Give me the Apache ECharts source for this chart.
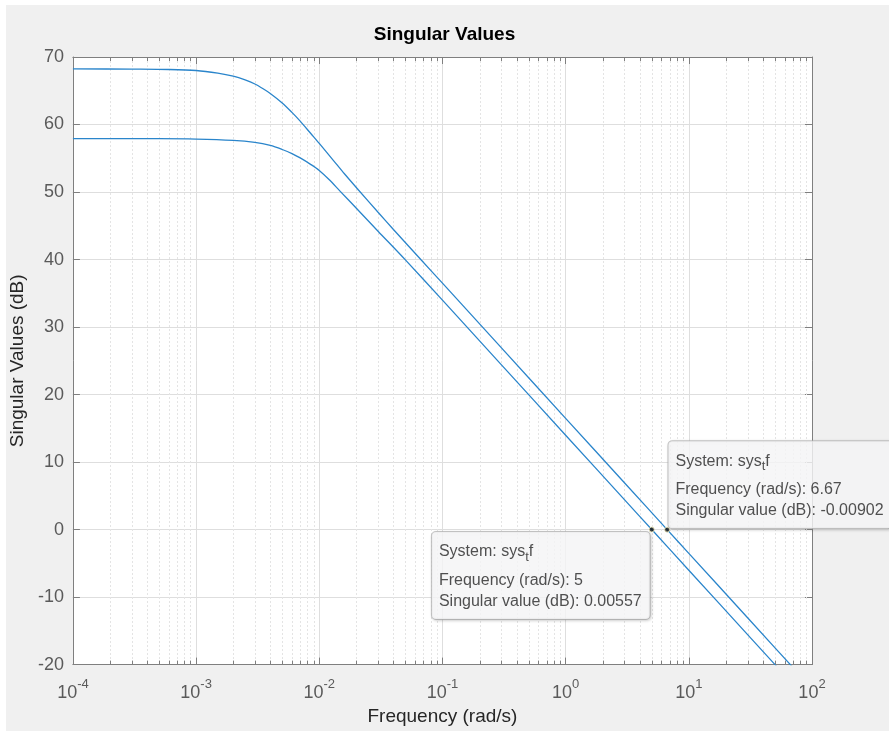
<!DOCTYPE html>
<html>
<head>
<meta charset="utf-8">
<script src="https://cdn.jsdelivr.net/npm/echarts@6/dist/echarts.min.js"></script>
<style>
  html, body { margin: 0; padding: 0; background: #ffffff; }
  #chart { width: 889px; height: 731px; }
</style>
</head>
<body>
<div id="chart"></div>
<script>
// Upper singular value: frequency (rad/s) and level (dB)
const freqUpper = [1e-4, 3e-4, 6e-4, 1e-3, 1.5e-3, 2e-3, 2.5e-3, 3e-3, 3.5e-3, 4e-3, 5e-3, 6e-3, 7e-3,
                   8.5e-3, 1e-2, 1.3e-2, 1.6e-2, 2.08e-2, 3e-2, 4e-2, 6.67e-2, 0.1, 0.3, 1, 3, 6.67, 10, 30, 100];
const sigmaUpper = [68.25, 68.2, 68.15, 68.0, 67.6, 67.15, 66.6, 66.0, 65.3, 64.6, 63.2, 61.8, 60.5,
                    58.7, 57.2, 54.7, 52.7, 50.3, 47.0, 44.45, 40.0, 36.5, 26.96, 16.48, 6.94, -0.00902, -3.52, -13.06, -23.52];

// Lower singular value: frequency (rad/s) and level (dB)
const freqLower = [1e-4, 5e-4, 1e-3, 2e-3, 3e-3, 4e-3, 5e-3, 6e-3, 7e-3, 8.5e-3, 1e-2,
                   1.2e-2, 1.48e-2, 2e-2, 3e-2, 5e-2, 0.1, 0.3, 1, 3, 5, 10, 30, 100];
const sigmaLower = [57.9, 57.9, 57.85, 57.65, 57.35, 56.9, 56.3, 55.7, 55.05, 54.1, 53.2,
                    51.85, 50.1, 47.6, 44.2, 39.95, 33.98, 24.44, 13.98, 4.44, 0.00557, -6.02, -15.56, -26.0];

// Data tips
const tipFreq = [5, 6.67];
const tipValue = [0.00557, -0.00902];

// Axis ranges
const xMin = 1e-4, xMax = 1e2;
const yMin = -20, yMax = 70, yStep = 10;
const decadeExps = [-4, -3, -2, -1, 0, 1];
const minorMultipliers = [2, 3, 4, 5, 6, 7, 8, 9];

const minorFreqs = [];
decadeExps.forEach(e => minorMultipliers.forEach(m => minorFreqs.push([m * Math.pow(10, e)])));

const FONT = '"Liberation Sans", Arial, Helvetica, sans-serif';
const LINE_COLOR = '#2a85cb';
const AXIS_COLOR = '#7f7f7f';
const TICK_TEXT = '#5a5a5a';
const TEXT_DARK = '#262626';

const chart = echarts.init(document.getElementById('chart'), null, { renderer: 'canvas' });

function xLabel(v) {
  const e = Math.round(Math.log10(v));
  return '{b|10}{s|' + e + '}';
}

const axisLineStyle = { show: true, onZero: false, lineStyle: { color: AXIS_COLOR, width: 1 } };

const tipRich = {
  a: { fontFamily: FONT, fontSize: 16, color: TEXT_DARK, lineHeight: 36, align: 'left' },
  sub: { fontFamily: FONT, fontSize: 13, color: TEXT_DARK, lineHeight: 36, padding: [10, 0, 0, 0], align: 'left' },
  b: { fontFamily: FONT, fontSize: 16, color: TEXT_DARK, lineHeight: 21, align: 'left' }
};

function tipText(i) {
  return [
    '{a|System: sys}{sub|t}{a|f}',
    '{b|Frequency (rad/s): ' + tipFreq[i] + '}',
    '{b|Singular value (dB): ' + tipValue[i] + '}'
  ].join('\n');
}

const tipBox = {
  show: true,
  backgroundColor: '#fcfcfe',
  borderColor: '#b9b9b9',
  borderWidth: 1,
  borderRadius: 4,
  padding: [2, 8, 7, 7],
  shadowColor: 'rgba(0,0,0,0.18)',
  shadowBlur: 3,
  shadowOffsetX: 1,
  shadowOffsetY: 1,
  rich: tipRich
};

function curve(fs, vs) {
  return fs.map((f, i) => [f, vs[i]]);
}

const option = {
  animation: false,
  backgroundColor: '#ffffff',
  graphic: [{
    type: 'rect', z: -10, silent: true,
    shape: { x: 6, y: 5, width: 883, height: 726 },
    style: { fill: '#f0f0f0' }
  }],
  title: {
    text: 'Singular Values',
    left: 439.5, top: 20, textAlign: 'center',
    textStyle: { fontFamily: FONT, fontSize: 19, fontWeight: 'bold', color: '#000000' }
  },
  grid: {
    left: 67, right: 77, top: 57, bottom: 63,
    show: true, backgroundColor: '#ffffff', borderWidth: 0
  },
  xAxis: [{
    type: 'log', logBase: 10, min: xMin, max: xMax, interval: 1,
    position: 'bottom',
    axisLine: axisLineStyle,
    axisTick: { show: true, inside: true, length: 7, lineStyle: { color: AXIS_COLOR } },
    axisLabel: {
      formatter: xLabel, margin: 13,
      rich: {
        b: { fontFamily: FONT, fontSize: 18, color: TICK_TEXT },
        s: { fontFamily: FONT, fontSize: 13, color: TICK_TEXT, padding: [0, 0, 18, 0] }
      }
    },
    splitLine: { show: true, lineStyle: { color: '#dedede', width: 1 } },
    name: 'Frequency (rad/s)', nameLocation: 'middle', nameGap: 41,
    nameTextStyle: { fontFamily: FONT, fontSize: 19, color: TEXT_DARK }
  }, {
    type: 'log', logBase: 10, min: xMin, max: xMax, interval: 1,
    position: 'top',
    axisLine: axisLineStyle,
    axisTick: { show: true, inside: true, length: 7, lineStyle: { color: AXIS_COLOR } },
    axisLabel: { show: false },
    splitLine: { show: false }
  }],
  yAxis: [{
    type: 'value', min: yMin, max: yMax, interval: yStep,
    position: 'left',
    axisLine: axisLineStyle,
    axisTick: { show: true, inside: true, length: 7, lineStyle: { color: AXIS_COLOR } },
    axisLabel: { margin: 9, fontFamily: FONT, fontSize: 18, color: TICK_TEXT },
    splitLine: { show: true, lineStyle: { color: '#dedede', width: 1 } },
    name: 'Singular Values (dB)', nameLocation: 'middle', nameGap: 36, nameRotate: 90,
    nameTextStyle: { fontFamily: FONT, fontSize: 19, color: TEXT_DARK }
  }, {
    type: 'value', min: yMin, max: yMax, interval: yStep,
    position: 'right',
    axisLine: axisLineStyle,
    axisTick: { show: true, inside: true, length: 7, lineStyle: { color: AXIS_COLOR } },
    axisLabel: { show: false },
    splitLine: { show: false }
  }],
  series: [{
    // minor decade grid lines and minor ticks on top/bottom edges
    type: 'custom',
    xAxisIndex: 0, yAxisIndex: 0,
    silent: true, z: 1, clip: false,
    encode: { x: 0 },
    data: minorFreqs,
    renderItem: function (params, api) {
      const top = api.coord([api.value(0), yMax]);
      const bot = api.coord([api.value(0), yMin]);
      const x = Math.round(top[0]) + 0.5;
      return {
        type: 'group',
        children: [{
          type: 'line',
          shape: { x1: x, y1: top[1], x2: x, y2: bot[1] },
          style: { stroke: '#e4e4e4', lineWidth: 1, lineDash: [2, 2] }
        }, {
          type: 'line',
          shape: { x1: x, y1: top[1], x2: x, y2: top[1] + 4 },
          style: { stroke: AXIS_COLOR, lineWidth: 1 }
        }, {
          type: 'line',
          shape: { x1: x, y1: bot[1], x2: x, y2: bot[1] - 4 },
          style: { stroke: AXIS_COLOR, lineWidth: 1 }
        }]
      };
    }
  }, {
    type: 'line', name: 'sigma1', z: 3,
    data: curve(freqUpper, sigmaUpper),
    showSymbol: false, smooth: 0.3,
    lineStyle: { color: LINE_COLOR, width: 1.3 },
    clip: true
  }, {
    type: 'line', name: 'sigma2', z: 3,
    data: curve(freqLower, sigmaLower),
    showSymbol: false, smooth: 0.3,
    lineStyle: { color: LINE_COLOR, width: 1.3 },
    clip: true
  }, {
    type: 'scatter', z: 5,
    symbol: 'circle', symbolSize: 5,
    itemStyle: { color: '#111111', borderColor: '#f3f0c0', borderWidth: 1 },
    data: [{
      value: [tipFreq[0], tipValue[0]],
      label: Object.assign({}, tipBox, {
        position: [1, 5.5], align: 'right', verticalAlign: 'top',
        formatter: () => tipText(0)
      })
    }, {
      value: [tipFreq[1], tipValue[1]],
      label: Object.assign({}, tipBox, {
        position: [4.3, 1.5], align: 'left', verticalAlign: 'bottom',
        formatter: () => tipText(1)
      })
    }]
  }]
};

chart.setOption(option);
</script>
</body>
</html>
